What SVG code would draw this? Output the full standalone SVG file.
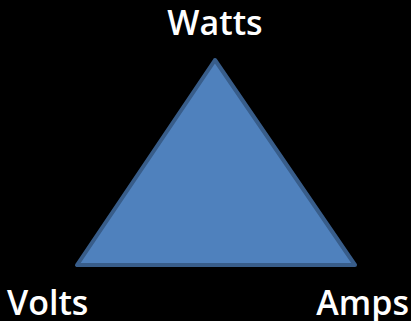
<svg xmlns="http://www.w3.org/2000/svg" width="411" height="321" viewBox="0 0 411 321">
<style>
.lbl{font-family:"Open Sans","DejaVu Sans",sans-serif;font-weight:600;font-size:34px;fill:#ffffff}
</style>
<rect width="411" height="321" fill="#000000"/>
<g id="triangle">
<polygon points="215,60 77,265 355,265" fill="#4F81BD" stroke="#385D8A" stroke-width="4" stroke-linejoin="round"/>
</g>
<g id="watts"><text class="lbl" x="215" y="35" text-anchor="middle">Watts</text></g>
<g id="volts"><text class="lbl" x="7" y="315">Volts</text></g>
<g id="amps"><text class="lbl" x="409" y="315" text-anchor="end">Amps</text></g>
</svg>
